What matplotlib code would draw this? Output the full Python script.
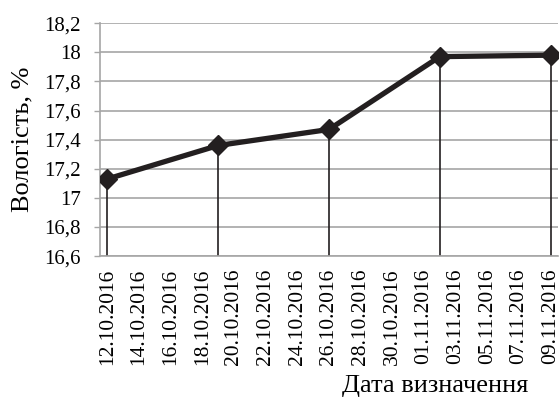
import numpy as np
import pandas as pd
import matplotlib
matplotlib.use("Agg")
import matplotlib.pyplot as plt
import matplotlib.dates as mdates

# measured moisture by date
dates = pd.to_datetime(["2016-10-12", "2016-10-19", "2016-10-26", "2016-11-02", "2016-11-09"])
moisture = [17.13, 17.36, 17.47, 17.97, 17.98]

y_ticks = [16.6, 16.8, 17.0, 17.2, 17.4, 17.6, 17.8, 18.0, 18.2]
y_tick_labels = ["16,6", "16,8", "17", "17,2", "17,4", "17,6", "17,8", "18", "18,2"]
x_ticks = pd.date_range("2016-10-12", "2016-11-09", freq="2D")

plt.rcParams['font.family'] = ['Liberation Serif', 'DejaVu Serif']

fig = plt.figure(figsize=(5.59, 3.99), dpi=100)
ax = fig.add_axes([0.179, 0.358, 0.819, 0.584])

ink = '#231f20'
grid = '#a6a6a6'

# drop lines from every point down to the axis
ax.vlines(dates, 16.6, moisture, color=ink, lw=1.2, zorder=2)
ax.plot(dates, moisture, color=ink, lw=3.8, marker='D', ms=10, zorder=3)

ax.set_ylim(16.6, 18.2)
ax.set_yticks(y_ticks)
ax.set_yticklabels(y_tick_labels)
half = pd.Timedelta(hours=11)
ax.set_xlim(dates[0] - half, dates[-1] + half)
ax.set_xticks(x_ticks)
ax.xaxis.set_major_formatter(mdates.DateFormatter('%d.%m.%Y'))
ax.tick_params(axis='x', rotation=90, length=0, pad=9, labelsize=15.5)
ax.tick_params(axis='y', length=4, color=grid, width=1, pad=10, labelsize=15)

ax.grid(axis='y', color=grid, lw=1.2)
ax.set_axisbelow(True)
for s in ['top', 'right']:
    ax.spines[s].set_visible(False)
for s in ['left', 'bottom']:
    ax.spines[s].set_color(grid)
    ax.spines[s].set_linewidth(1.2)

ax.set_ylabel('Вологість, %', fontsize=19)
ax.yaxis.set_label_coords(-0.145, 0.5)
ax.set_xlabel('Дата визначення', fontsize=19)
ax.xaxis.set_label_coords(0.731, -0.51)

fig.savefig('out.png', dpi=100)
